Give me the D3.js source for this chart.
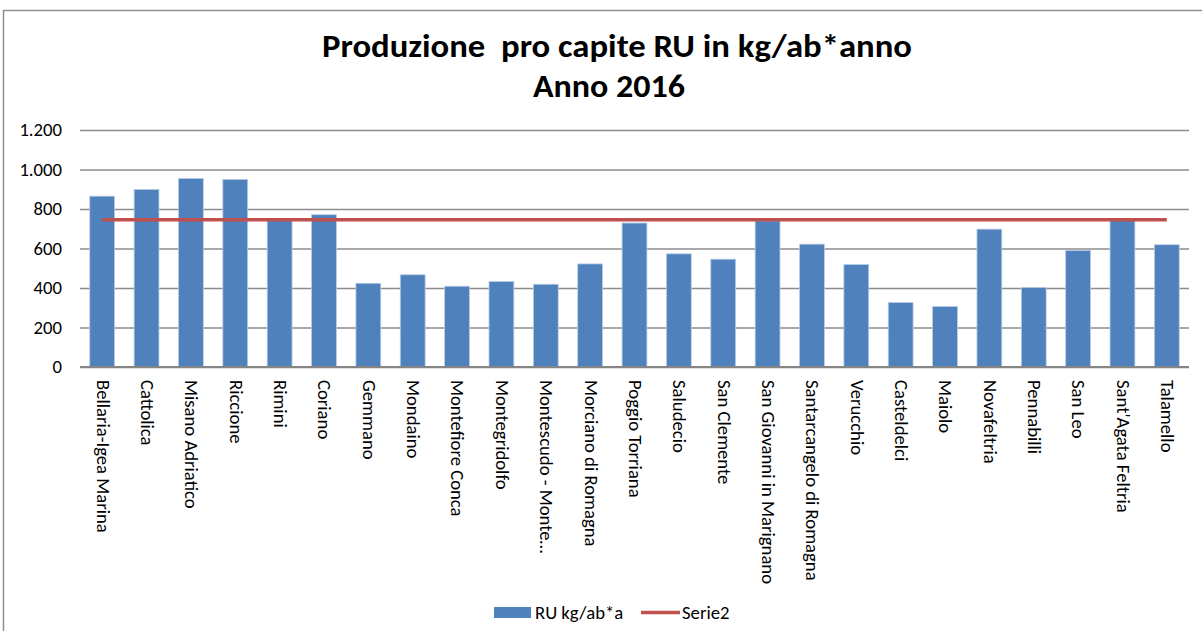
<!DOCTYPE html>
<html>
<head>
<meta charset="utf-8">
<script src="https://cdn.jsdelivr.net/npm/d3@7"></script>
<style>
  html, body { margin: 0; padding: 0; background: #ffffff; }
  svg { display: block; }
</style>
</head>
<body>
<svg id="chart" width="1202" height="631"></svg>
<script>
// categories (comuni) and the two series
var comuni = [
  'Bellaria-Igea Marina', 'Cattolica', 'Misano Adriatico', 'Riccione', 'Rimini',
  'Coriano', 'Gemmano', 'Mondaino', 'Montefiore Conca', 'Montegridolfo',
  'Montescudo - Monte…', 'Morciano di Romagna', 'Poggio Torriana', 'Saludecio',
  'San Clemente', 'San Giovanni in Marignano', 'Santarcangelo di Romagna',
  'Verucchio', 'Casteldelci', 'Maiolo', 'Novafeltria', 'Pennabilli', 'San Leo',
  "Sant'Agata Feltria", 'Talamello'
];
var ruKgAb = [
  865, 899, 955, 950, 752,
  771, 424, 467, 409, 433,
  419, 522, 729, 573,
  546, 740, 622,
  519, 326, 306, 698, 403, 590,
  748, 619
];
var serie2 = [
  745, 745, 745, 745, 745,
  745, 745, 745, 745, 745,
  745, 745, 745, 745,
  745, 745, 745,
  745, 745, 745, 745, 745, 745,
  745, 745
];
var yTicks = [0, 200, 400, 600, 800, 1000, 1200];
var titleLines = ['Produzione  pro capite RU in kg/ab*anno', 'Anno 2016'];
var legendNames = ['RU kg/ab*a', 'Serie2'];

var FONT = 'Carlito, "Liberation Sans", Arial, sans-serif';
var FS = 18.7;
var BLUE = '#4f81bd';
var RED = '#c0504d';

var itFmt = d3.formatLocale({
  decimal: ',', thousands: '.', grouping: [3], currency: ['€', '']
}).format(',d');

function makeChart(svgBox) {
  var svg = d3.select(svgBox);
  var plot = { left: 80, right: 1189, top: 130, bottom: 367 };

  var scX = d3.scaleBand().domain(comuni).range([plot.left, plot.right])
    .paddingInner(0.44).paddingOuter(0.22);
  var scY = d3.scaleLinear().domain([0, 1200]).range([plot.bottom, plot.top]);

  // outer frame of the chart object
  svg.append('path')
    .attr('d', 'M3.5 640 L3.5 10.5 L1210 10.5')
    .attr('fill', 'none')
    .attr('stroke', '#8e8e8e')
    .attr('stroke-width', 1.5);

  // title
  var title = svg.append('g')
    .attr('font-family', FONT)
    .attr('font-weight', 'bold')
    .attr('font-size', 33)
    .attr('fill', '#000');
  title.append('text')
    .attr('x', 617).attr('y', 57)
    .attr('text-anchor', 'middle')
    .attr('textLength', 590)
    .attr('lengthAdjust', 'spacingAndGlyphs')
    .style('white-space', 'pre')
    .text(titleLines[0]);
  title.append('text')
    .attr('x', 609).attr('y', 97)
    .attr('text-anchor', 'middle')
    .attr('textLength', 152)
    .attr('lengthAdjust', 'spacingAndGlyphs')
    .text(titleLines[1]);

  // y axis: gridlines + labels, no axis line
  var yAxis = d3.axisLeft(scY)
    .tickValues(yTicks)
    .tickSize(-(plot.right - plot.left))
    .tickPadding(18)
    .tickFormat(itFmt);
  svg.append('g')
    .attr('transform', 'translate(' + plot.left + ',0)')
    .call(yAxis)
    .call((g) => g.select('.domain').remove())
    .call((g) => g.selectAll('.tick line')
      .attr('stroke', '#8c8c8c')
      .attr('stroke-width', 1.3))
    .call((g) => g.selectAll('.tick text')
      .attr('font-family', FONT)
      .attr('font-size', FS)
      .attr('fill', '#000'));

  // bars
  svg.append('g')
    .selectAll('rect')
    .data(ruKgAb)
    .enter()
    .append('rect')
    .attr('x', (d, i) => scX(comuni[i]))
    .attr('y', (d) => scY(d))
    .attr('width', scX.bandwidth())
    .attr('height', (d) => scY(0) - scY(d))
    .attr('fill', BLUE)
    .attr('stroke', '#b9cde5')
    .attr('stroke-width', 0.8);

  // x axis line and rotated category labels
  var xAxis = d3.axisBottom(scX).tickSize(0).tickPadding(13);
  svg.append('g')
    .attr('transform', 'translate(0,' + plot.bottom + ')')
    .call(xAxis)
    .call((g) => g.select('.domain')
      .attr('stroke', '#858585')
      .attr('stroke-width', 2.2)
      .attr('d', 'M' + plot.left + ',0H' + plot.right))
    .call((g) => g.selectAll('.tick text')
      .attr('font-family', FONT)
      .attr('font-size', FS)
      .attr('fill', '#000')
      .attr('transform', 'rotate(90)')
      .attr('text-anchor', 'start')
      .attr('x', 13)
      .attr('y', 0)
      .attr('dy', '0.3em'));

  // Serie2 line through the category centres
  var lnMkr = d3.line()
    .x((d, i) => scX(comuni[i]) + scX.bandwidth() / 2)
    .y((d) => scY(d));
  svg.append('path')
    .attr('d', lnMkr(serie2))
    .attr('fill', 'none')
    .attr('stroke', RED)
    .attr('stroke-width', 3.5);

  // legend
  var lg = svg.append('g')
    .attr('font-family', FONT)
    .attr('font-size', FS)
    .attr('fill', '#000');
  lg.append('rect')
    .attr('x', 494).attr('y', 607)
    .attr('width', 37).attr('height', 11)
    .attr('fill', BLUE);
  lg.append('text')
    .attr('x', 535).attr('y', 619)
    .text(legendNames[0]);
  lg.append('line')
    .attr('x1', 641).attr('x2', 680)
    .attr('y1', 612.5).attr('y2', 612.5)
    .attr('stroke', RED)
    .attr('stroke-width', 3.5);
  lg.append('text')
    .attr('x', 682).attr('y', 619)
    .text(legendNames[1]);
}

makeChart(document.getElementById('chart'));
</script>
</body>
</html>
